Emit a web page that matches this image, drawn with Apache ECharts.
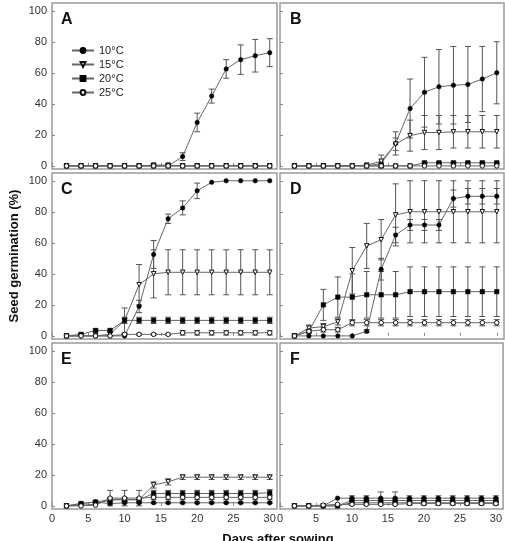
<!DOCTYPE html>
<html>
<head>
<meta charset="utf-8">
<script src="https://cdn.jsdelivr.net/npm/echarts@6/dist/echarts.min.js"></script>
<style>
html,body{margin:0;padding:0;background:#fff;}
#chart{width:505px;height:541px;}
</style>
</head>
<body>
<div id="chart"></div>
<script>
const days = [2,4,6,8,10,12,14,16,18,20,22,24,26,28,30];
const temps = ['10°C','15°C','20°C','25°C'];
const yTicks = [0,20,40,60,80,100];
const xTicks = [0,5,10,15,20,25,30];
const panelLetters = ['A','B','C','D','E','F'];

// Panel A
const A10  = [0,0,0,0,0,0,0,0,6,28,45,62.5,68.5,71,73];
const A10e = [0,0,0,0,0,0,0,0,2.5,6,4.5,6,9.5,10.5,9];
const A15  = [0,0,0,0,0,0,0.5,0.5,0,0,0,0,0,0,0];
const A15e = [0,0,0,0,0,0,0.5,0.5,0,0,0,0,0,0,0];
const A20  = [0,0,0,0,0,0,0,0,0,0,0,0,0,0,0];
const A20e = [0,0,0,0,0,0,0,0,0,0,0,0,0,0,0];
const A25  = [0,0,0,0,0,0,0,0,0,0,0,0,0,0,0];
const A25e = [0,0,0,0,0,0,0,0,0,0,0,0,0,0,0];
// Panel B
const B10  = [0,0,0,0,0,0,1.5,14.5,37,47.5,51,52,52.5,56,60];
const B10e = [0,0,0,0,0,0,1,7.5,19,22.5,24,25,24.5,21,20];
const B15  = [0,0,0,0,0,0.5,3,14,19.5,21.5,21.5,22,22,22,22];
const B15e = [0,0,0,0,0,0,4,4,10,11,11,10.5,10.5,10.5,10.5];
const B20  = [0,0,0,0,0,0,0,0,0,2,2,2,2,2,2];
const B20e = [0,0,0,0,0,0,0,0,0,0.5,0.5,0.5,0.5,0.5,0.5];
const B25  = [0,0,0,0,0,0,0,0,0,0,0,0,0,0,0];
const B25e = [0,0,0,0,0,0,0,0,0,0,0,0,0,0,0];
// Panel C
const C10  = [0,0,0,0,0,19,52.5,75.5,82.5,93.5,99,100,100,100,100];
const C10e = [0,0,0,0,0,4,9,3,4.5,5,0,0,0,0,0];
const C15  = [0,0,0,1,10,33,40,41,41,41,41,41,41,41,41];
const C15e = [0,0,0,0,8,13,15.5,14.5,14.5,14.5,14.5,14.5,14.5,14.5,14.5];
const C20  = [0,1,3.5,3.5,10,10,10,10,10,10,10,10,10,10,10];
const C20e = [0,0.5,1,1,2,2,2,2,2,2,2,2,2,2,2];
const C25  = [0,0,0,0,1,1,1,1,2,2,2,2,2,2,2];
const C25e = [0,0,0,0,0.5,0.5,0.5,0.5,1.5,1.5,1.5,1.5,1.5,1.5,1.5];
// Panel D
const D10  = [0,0,0,0,0,3,43,65,71.5,71.5,71.5,88.5,90,90,90];
const D10e = [0,0,0,0,0,1,7,5,3.5,3.5,3.5,5.5,5,5,5];
const D15  = [0,5,6,9,42,58,62,78,80,80,80,80,80,80,80];
const D15e = [0,2,2,2,15,14.5,13,20,20,20,20,20,20,20,20];
const D20  = [0,3,20,25,25,26.5,26.5,26.5,28.5,28.5,28.5,28.5,28.5,28.5,28.5];
const D20e = [0,1,10,13,15,15,15,15,16,16,16,16,16,16,16];
const D25  = [0,3,4,4,8.5,8.5,8.5,8.5,8.5,8.5,8.5,8.5,8.5,8.5,8.5];
const D25e = [0,1,1.5,1.5,2,2,2,2,2,2,2,2,2,2,2];
// Panel E
const E10  = [0,1.5,2.5,1.5,2,2,2,2,2,2,2,2,2,2,2];
const E10e = [0,0.5,0.5,0.5,0.5,0.5,0.5,0.5,0.5,0.5,0.5,0.5,0.5,0.5,0.5];
const E15  = [0,0.5,1,4,4,4,13.5,15.5,18.5,18.5,18.5,18.5,18.5,18.5,18.5];
const E15e = [0,0,0,1,1,1,2,2,1.5,1.5,1.5,1.5,1.5,1.5,1.5];
const E20  = [0,1.5,2.5,4,4,4,8,8,8,8,8,8,8,8,8.5];
const E20e = [0,0.5,0.5,1,1,1,2,2,2,2,2,2,2,2,2];
const E25  = [0,0,0.5,5,5,5,5.5,5.5,5.5,5.5,5.5,5.5,5.5,5.5,5.5];
const E25e = [0,0,0,5,5,5,1.5,1.5,1.5,1.5,1.5,1.5,1.5,1.5,1.5];
// Panel F
const F10  = [0,0,0,5,5,5,5,5,5,5,5,5,5,5,5];
const F10e = [0,0,0,0,1.5,1.5,4,4,1.5,1.5,1.5,1.5,1.5,1.5,1.5];
const F15  = [0,0,0,0,2,2,2,2,2,2,2,2,2,2,2];
const F15e = [0,0,0,0,1,1,1,1,1,1,1,1,1,1,1];
const F20  = [0,0,0,0,3.5,3.5,3.5,3.5,3.5,3.5,3.5,3.5,3.5,3.5,3.5];
const F20e = [0,0,0,0,1.5,1.5,1.5,1.5,1.5,1.5,1.5,1.5,1.5,1.5,1.5];
const F25  = [0,0,0.5,1,1,1,1,1,1.5,1.5,1.5,1.5,1.5,1.5,1.5];
const F25e = [0,0,0,0,0.5,0.5,0.5,0.5,1,1,1,1,1,1,1];

const panelValues = [
  [A10,A15,A20,A25],[B10,B15,B20,B25],[C10,C15,C20,C25],
  [D10,D15,D20,D25],[E10,E15,E20,E25],[F10,F15,F20,F25]
];
const panelErrors = [
  [A10e,A15e,A20e,A25e],[B10e,B15e,B20e,B25e],[C10e,C15e,C20e,C25e],
  [D10e,D15e,D20e,D25e],[E10e,E15e,E20e,E25e],[F10e,F15e,F20e,F25e]
];

const FONT = 'Liberation Sans, Arial, Helvetica, sans-serif';
const colLeft = [52, 280];
const colWidth = [225, 224];
const rowTop = [3, 173, 343];
const rowHeight = 166;
const Y_MIN = -2, Y_MAX = 105;

const markerStyles = [
  {symbol:'circle', symbolSize:4.5, symbolRotate:0, itemStyle:{color:'#000', borderColor:'#000', borderWidth:0.5}},
  {symbol:'triangle', symbolSize:4.5, symbolRotate:180, itemStyle:{color:'#fff', borderColor:'#111', borderWidth:1}},
  {symbol:'rect', symbolSize:4.5, symbolRotate:0, itemStyle:{color:'#000', borderColor:'#000', borderWidth:0.5}},
  {symbol:'circle', symbolSize:4.5, symbolRotate:0, itemStyle:{color:'#fff', borderColor:'#111', borderWidth:1}}
];

const grids = [], xAxes = [], yAxes = [], series = [], graphics = [];

for (let p = 0; p < 6; p++) {
  const row = Math.floor(p / 2), col = p % 2;
  grids.push({
    left: colLeft[col], top: rowTop[row], width: colWidth[col], height: rowHeight,
    show: true, borderColor: '#9a9a9a', borderWidth: 1.5, backgroundColor: 'transparent'
  });
  xAxes.push({
    type: 'value', gridIndex: p, min: 0, max: 31,
    axisLine: {show: false},
    splitLine: {show: false},
    axisTick: {show: true, inside: true, length: 3, lineStyle: {color: '#888'}, customValues: xTicks},
    axisLabel: {show: row === 2, customValues: xTicks, fontFamily: FONT, fontSize: 11, color: '#333', margin: 4}
  });
  yAxes.push({
    type: 'value', gridIndex: p, min: Y_MIN, max: Y_MAX,
    axisLine: {show: false},
    splitLine: {show: false},
    axisTick: {show: true, inside: true, length: 3, lineStyle: {color: '#888'}, customValues: yTicks},
    axisLabel: {show: col === 0, customValues: yTicks, fontFamily: FONT, fontSize: 11, color: '#333', margin: 5}
  });

  for (let t = 0; t < 4; t++) {
    const vals = panelValues[p][t];
    const errs = panelErrors[p][t];
    const errData = [];
    days.forEach((d, k) => {
      if (errs[k] > 0) errData.push([d, Math.max(Y_MIN, vals[k] - errs[k]), vals[k] + errs[k]]);
    });
    series.push({
      type: 'custom',
      name: 'err',
      xAxisIndex: p, yAxisIndex: p,
      z: 1,
      silent: true,
      encode: {x: 0, y: [1, 2]},
      data: errData,
      renderItem: function (params, api) {
        const x = api.value(0), lo = api.value(1), hi = api.value(2);
        const pt = api.coord([x, hi]);
        const pb = api.coord([x, lo]);
        const w = 3;
        const st = {stroke: '#555', lineWidth: 1};
        return {type: 'group', children: [
          {type: 'line', shape: {x1: pt[0], y1: pt[1], x2: pb[0], y2: pb[1]}, style: st},
          {type: 'line', shape: {x1: pt[0]-w, y1: pt[1], x2: pt[0]+w, y2: pt[1]}, style: st},
          {type: 'line', shape: {x1: pb[0]-w, y1: pb[1], x2: pb[0]+w, y2: pb[1]}, style: st}
        ]};
      }
    });
  }
  for (let t = 0; t < 4; t++) {
    const vals = panelValues[p][t];
    const m = markerStyles[t];
    series.push({
      type: 'line',
      name: temps[t],
      xAxisIndex: p, yAxisIndex: p,
      z: 3 + t,
      data: days.map((d, k) => [d, vals[k]]),
      symbol: m.symbol, symbolSize: m.symbolSize, symbolRotate: m.symbolRotate,
      showAllSymbol: true,
      lineStyle: {color: '#666', width: 1},
      itemStyle: m.itemStyle,
      emphasis: {disabled: true},
      clip: false
    });
  }

  graphics.push({
    type: 'text',
    left: colLeft[col] + 9 + (col === 1 ? 1 : 0),
    top: rowTop[row] + 9,
    style: {text: panelLetters[p], font: 'bold 16px ' + FONT, fill: '#111'}
  });
}

graphics.push({
  type: 'text',
  x: 14, y: 256,
  rotation: Math.PI / 2,
  style: {text: 'Seed germination (%)', font: 'bold 13px ' + FONT, fill: '#111', align: 'center', verticalAlign: 'middle'}
});
graphics.push({
  type: 'text',
  x: 278, y: 539,
  style: {text: 'Days after sowing', font: 'bold 13px ' + FONT, fill: '#111', align: 'center', verticalAlign: 'middle'}
});

const chart = echarts.init(document.getElementById('chart'), null, {renderer: 'canvas'});
chart.setOption({
  animation: false,
  backgroundColor: '#fff',
  grid: grids,
  xAxis: xAxes,
  yAxis: yAxes,
  legend: {
    data: temps,
    orient: 'vertical',
    left: 66, top: 40,
    itemWidth: 22, itemHeight: 6, itemGap: 3,
    textStyle: {fontFamily: FONT, fontSize: 11, color: '#222'},
    selectedMode: false
  },
  graphic: graphics,
  series: series
});
</script>
</body>
</html>
